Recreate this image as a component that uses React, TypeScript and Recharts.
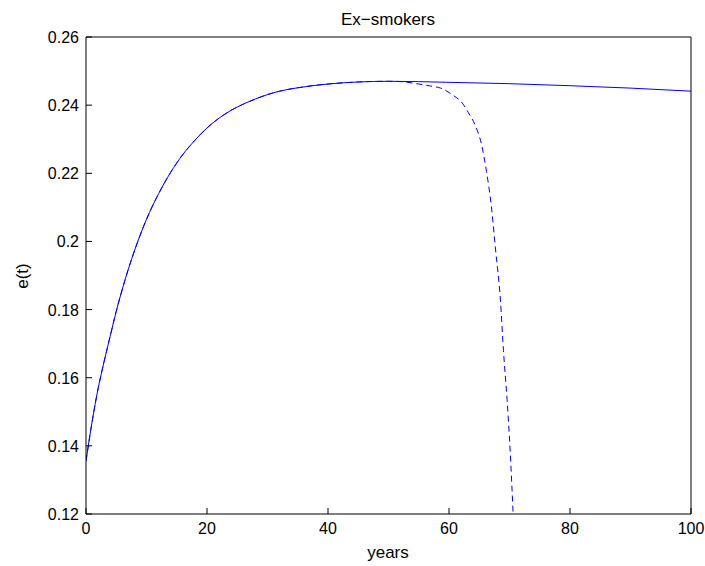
import { LineChart, Line, XAxis, YAxis } from 'recharts'

// years and e(t) for the full curve
const solidYears = [0, 1, 2, 3, 4, 5, 6, 8, 10, 12, 14, 16, 18, 20, 22, 24, 26, 28, 30, 32, 35, 40, 45, 50, 55, 60, 70, 80, 90, 100]
const solidValues = [
  0.1355, 0.147, 0.1568, 0.1648, 0.1722, 0.1795, 0.186, 0.1972, 0.2065, 0.214, 0.2203, 0.2255, 0.2297,
  0.2333, 0.2362, 0.2385, 0.2403, 0.2418, 0.2431, 0.2441, 0.2451, 0.2462, 0.2468, 0.247, 0.2469, 0.2467,
  0.2463, 0.2457, 0.245, 0.2441,
]

// the dashed curve splits off after ~50 years
const dashedYears = [50, 52, 55, 57, 58.6, 60.6, 62.2, 63.2, 64.4, 65.4, 66.2, 67, 67.7, 68.5, 69, 69.6, 70.1, 70.6]
const dashedValues = [
  0.247, 0.2469, 0.2462, 0.2456, 0.245, 0.243, 0.2406, 0.2378, 0.2338, 0.2283, 0.2205, 0.2103, 0.1975, 0.1828,
  0.168, 0.1535, 0.1388, 0.12,
]

const xTicks = [0, 20, 40, 60, 80, 100]
const yTicks = [0.12, 0.14, 0.16, 0.18, 0.2, 0.22, 0.24, 0.26]

const W = 705
const H = 566
const TOP = 37
const LEFT = 86
const BOTTOM = 514
const RIGHT = 691
// every axis takes 1px, so margins are one less
const M = { top: TOP - 1, right: W - RIGHT - 1, bottom: H - BOTTOM - 1, left: LEFT - 1 }
const FONT = '"Liberation Sans", Arial, Helvetica, sans-serif'
const TICK = 6

const solidData = solidYears.map((t, i) => ({ t, e: solidValues[i] }))
const dashedData = [
  ...solidData.filter((d) => d.t < 50),
  ...dashedYears.map((t, i) => ({ t, e: dashedValues[i] })),
]

const fmt = (v: number) => String(Number(v.toFixed(2)))

function BottomTick({ x, payload }: any) {
  return (
    <g>
      <line x1={x} x2={x} y1={BOTTOM} y2={BOTTOM - TICK} stroke="#000" />
      <text x={x} y={BOTTOM + 20} textAnchor="middle" fontSize={16} fontFamily={FONT} fill="#000">
        {fmt(payload.value)}
      </text>
    </g>
  )
}

function TopTick({ x }: any) {
  return <line x1={x} x2={x} y1={TOP} y2={TOP + TICK} stroke="#000" />
}

function LeftTick({ y, payload }: any) {
  return (
    <g>
      <line x1={LEFT} x2={LEFT + TICK} y1={y} y2={y} stroke="#000" />
      <text x={LEFT - 7} y={y + 6} textAnchor="end" fontSize={16} fontFamily={FONT} fill="#000">
        {fmt(payload.value)}
      </text>
    </g>
  )
}

function RightTick({ y }: any) {
  return <line x1={RIGHT} x2={RIGHT - TICK} y1={y} y2={y} stroke="#000" />
}

export default function App() {
  return (
    <div style={{ position: 'fixed', left: 0, top: 0, background: '#fff' }}>
      <LineChart width={W} height={H} margin={M}>
        <XAxis
          xAxisId="b"
          type="number"
          dataKey="t"
          domain={[0, 100]}
          ticks={xTicks}
          height={1}
          tickLine={false}
          tick={<BottomTick />}
          axisLine={{ stroke: '#000' }}
          allowDataOverflow
        />
        <XAxis
          xAxisId="top"
          orientation="top"
          type="number"
          dataKey="t"
          domain={[0, 100]}
          ticks={xTicks}
          height={1}
          tickLine={false}
          tick={<TopTick />}
          axisLine={{ stroke: '#000' }}
        />
        <YAxis
          yAxisId="l"
          type="number"
          domain={[0.12, 0.26]}
          ticks={yTicks}
          width={1}
          tickLine={false}
          tick={<LeftTick />}
          axisLine={{ stroke: '#000' }}
          allowDataOverflow
        />
        <YAxis
          yAxisId="r"
          orientation="right"
          type="number"
          domain={[0.12, 0.26]}
          ticks={yTicks}
          width={1}
          tickLine={false}
          tick={<RightTick />}
          axisLine={{ stroke: '#000' }}
        />
        <Line
          xAxisId="b"
          yAxisId="l"
          data={dashedData}
          dataKey="e"
          type="monotone"
          stroke="#0000ff"
          strokeWidth={1}
          strokeDasharray="6 4"
          dot={false}
          isAnimationActive={false}
        />
        <Line
          xAxisId="b"
          yAxisId="l"
          data={solidData}
          dataKey="e"
          type="monotone"
          stroke="#0000ff"
          strokeWidth={1}
          dot={false}
          isAnimationActive={false}
        />
        <text x={388} y={25} textAnchor="middle" fontSize={17} fontFamily={FONT} fill="#000">
          Ex−smokers
        </text>
        <text x={388} y={558} textAnchor="middle" fontSize={17} fontFamily={FONT} fill="#000">
          years
        </text>
        <text
          x={28}
          y={276}
          textAnchor="middle"
          fontSize={17}
          fontFamily={FONT}
          fill="#000"
          transform="rotate(-90, 28, 276)"
        >
          e(t)
        </text>
      </LineChart>
    </div>
  )
}
